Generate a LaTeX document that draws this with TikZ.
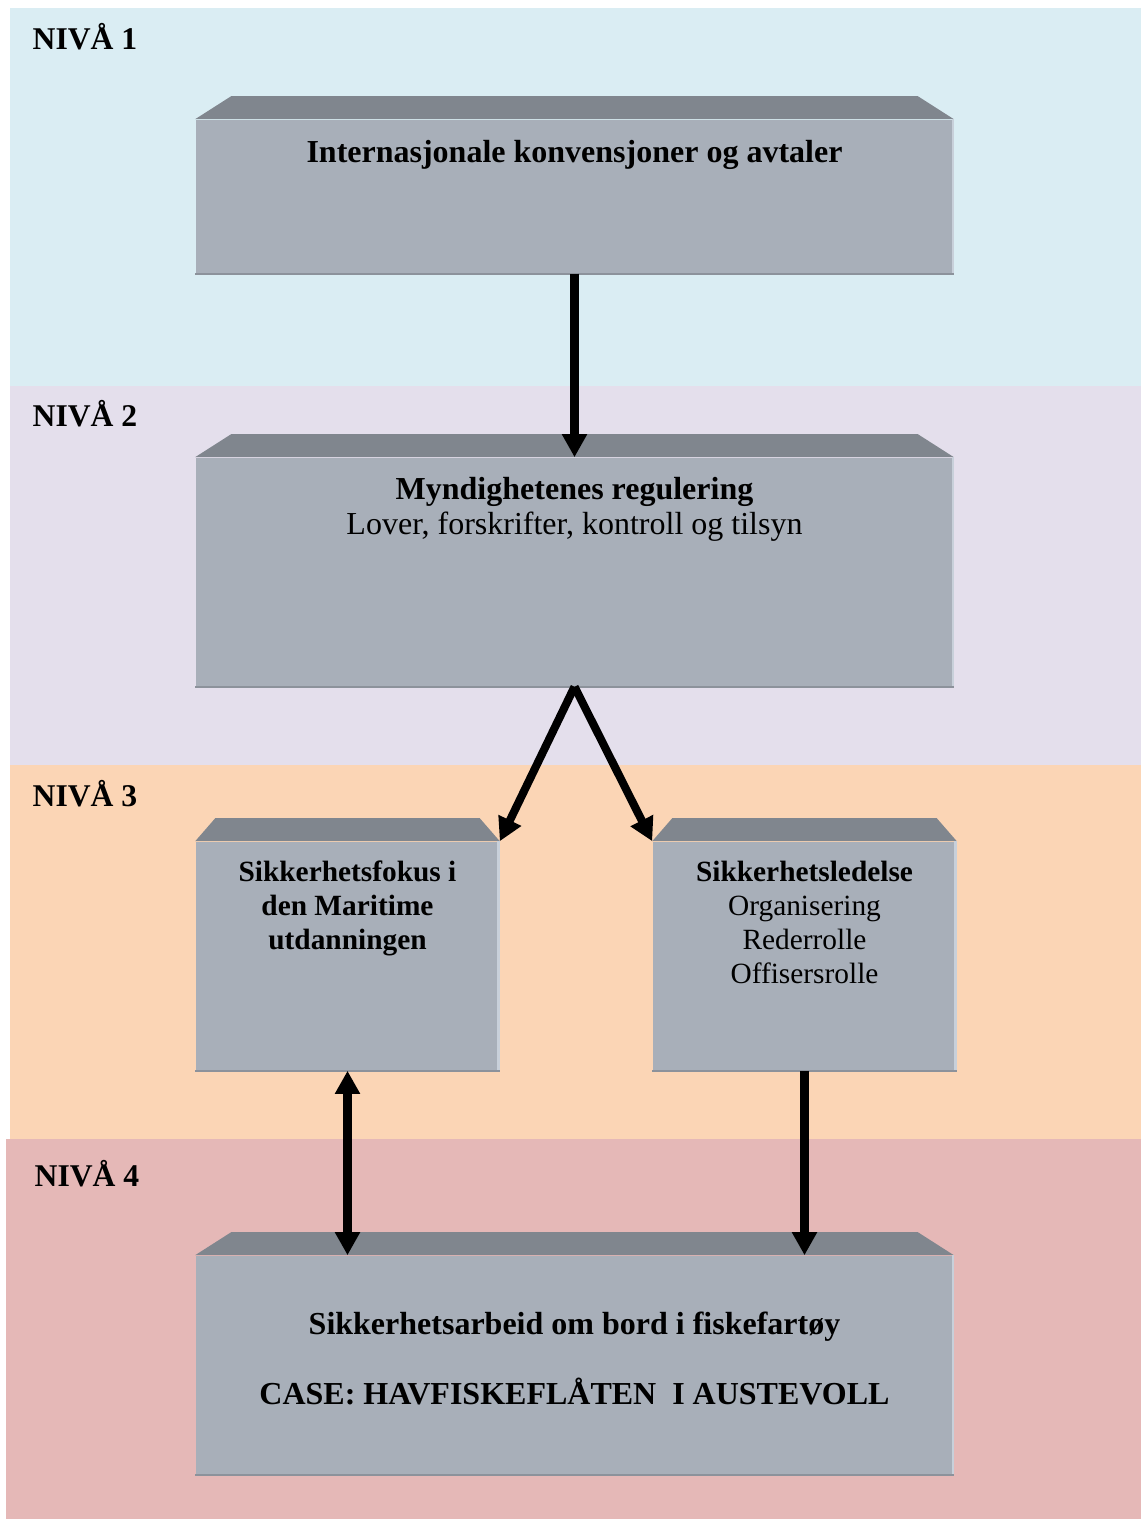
\documentclass[tikz,border=0pt]{standalone}
\usepackage{fontspec}
\setmainfont{Liberation Serif}
\usetikzlibrary{arrows.meta,positioning,calc}
\definecolor{NivaBlue}{RGB}{218,237,243}
\definecolor{NivaLilac}{RGB}{228,223,236}
\definecolor{NivaPeach}{RGB}{251,213,181}
\definecolor{NivaRose}{RGB}{229,184,183}
\definecolor{BoxFace}{RGB}{168,175,185}
\definecolor{BoxTop}{RGB}{128,134,142}
\definecolor{BoxEdge}{RGB}{200,208,218}

\begin{document}
\begin{tikzpicture}[x=0.01cm,y=-0.01cm,
    face/.style={fill=BoxFace, inner sep=0pt, minimum height=2.28cm},
    wide/.style={minimum width=7.57cm},
    narrow/.style={minimum width=3.03cm},
    bevel/.style={fill=BoxTop},
    txt/.style={font=\fontsize{9.1}{9.9}\selectfont, align=center, inner sep=0pt, anchor=north},
    smalltxt/.style={txt, font=\fontsize{8.35}{9.67}\selectfont},
    lvl/.style={font=\fontsize{9}{10}\selectfont\bfseries, inner sep=0pt, anchor=base west},
    arr/.style={line width=2.3pt, -{Triangle[length=6.6pt,width=6.8pt]}}]
    \useasboundingbox (0,0) rectangle (1141,1519);
    \fill[white] (0,0) rectangle (1141,1519);
    % levels
    \foreach \xa/\ya/\yb/\col/\n/\lx/\ly in {10/8/386/NivaBlue/1/32/50,10/386/765/NivaLilac/2/32/427,10/765/1139/NivaPeach/3/32/806,6/1139/1519/NivaRose/4/34/1186} {
      \fill[\col] (\xa,\ya) rectangle (1141,\yb);
      \node[lvl] (niva\n) at (\lx,\ly) {NIVÅ \n};
    }
    % boxes
    \node[face, wide, minimum height=1.53cm] (intl) at (574.5,196.5) {};
    \node[face, wide] (myn) at (574.5,572) {};
    \node[face, narrow] (skole) at (347.5,956) {};
    \node[face, narrow] (ledelse) at (804.5,956) {};
    \node[face, wide, minimum height=2.18cm] (bord) at (574.5,1365) {};
    \foreach \n/\d in {intl/36,myn/36,skole/20,ledelse/20,bord/36} {
      \fill[bevel] (\n.north west) -- ++(\d,-23) -- ($(\n.north east)+(-\d,-23)$) -- (\n.north east) -- cycle;
      \draw[BoxEdge, line width=0.8pt] ($(\n.north east)+(-1,0)$) -- ($(\n.south east)+(-1,0)$);
      \draw[BoxTop!70!BoxFace, line width=0.6pt] (\n.south west) -- (\n.south east);
    }
    % texts
    \node[txt, font=\fontsize{9.1}{9.9}\selectfont\bfseries] (intl-txt) at (574.5,140) {Internasjonale konvensjoner og avtaler};
    \node[txt] (myn-txt) at (574.5,477) {\textbf{Myndighetenes regulering}\\Lover, forskrifter, kontroll og tilsyn};
    \node[smalltxt, font=\fontsize{8.35}{9.67}\selectfont\bfseries] (skole-txt) at (347.5,860) {Sikkerhetsfokus i\\den Maritime\\utdanningen};
    \node[smalltxt] (ledelse-txt) at (804.5,860) {\textbf{Sikkerhetsledelse}\\Organisering\\Rederrolle\\Offisersrolle};
    \node[txt, font=\fontsize{9.1}{9.9}\selectfont\bfseries] (bord-txt) at (574.5,1311) {Sikkerhetsarbeid om bord i fiskefartøy\\[10pt]CASE: HAVFISKEFLÅTEN\ \ I AUSTEVOLL};
    % arrows
    \draw[arr] (intl.south) -- (myn.north);
    \draw[arr] (myn.south) -- (skole.north east);
    \draw[arr] (myn.south) -- (ledelse.north west);
    \draw[arr, {Triangle[length=6.6pt,width=6.8pt]}-{Triangle[length=6.6pt,width=6.8pt]}] (skole.south) -- (skole.south |- bord.north);
    \draw[arr] (ledelse.south) -- (ledelse.south |- bord.north);
  \end{tikzpicture}
\end{document}
